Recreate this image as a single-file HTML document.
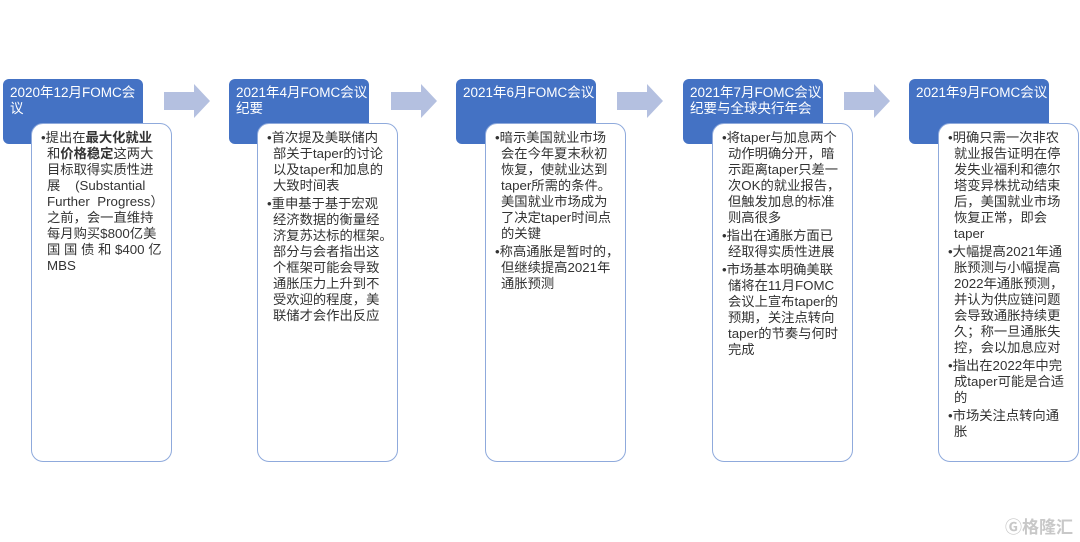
<!DOCTYPE html>
<html><head><meta charset="utf-8"><style>
body{margin:0;width:1080px;height:542px;background:#fff;position:relative;overflow:hidden;font-family:"Liberation Sans","Noto Sans CJK SC",sans-serif;}
.h{position:absolute;top:79px;width:140px;height:65px;background:#4472c4;border-radius:6px;color:#fff;font-size:13.5px;line-height:16px;padding:6px 0 0 7px;box-sizing:border-box;}
.w{position:absolute;top:123px;width:141px;height:339px;background:#fff;border:1.5px solid #8faadc;border-radius:12px;box-sizing:border-box;color:#333;font-size:13.3px;line-height:16px;padding:6px 4px 0 9px;}
.w p{margin:0 0 2px 0;padding-left:6px;text-indent:-6px;white-space:nowrap;}
.a{position:absolute;top:84px;}
</style></head><body>
<svg class="a" style="left:164px" width="46" height="34"><polygon points="0,8 30,8 30,0 46,17 30,34 30,26 0,26" fill="#b4c0e0"/></svg>
<svg class="a" style="left:391px" width="46" height="34"><polygon points="0,8 30,8 30,0 46,17 30,34 30,26 0,26" fill="#b4c0e0"/></svg>
<svg class="a" style="left:617px" width="46" height="34"><polygon points="0,8 30,8 30,0 46,17 30,34 30,26 0,26" fill="#b4c0e0"/></svg>
<svg class="a" style="left:844px" width="46" height="34"><polygon points="0,8 30,8 30,0 46,17 30,34 30,26 0,26" fill="#b4c0e0"/></svg>

<div class="h" style="left:3px">2020年12月FOMC会<br>议</div>
<div class="w" style="left:31px"><p>•提出在<b>最大化就业</b><br>和<b>价格稳定</b>这两大<br>目标取得实质性进<br>展 &nbsp;&nbsp;&nbsp;(Substantial<br>Further &nbsp;Progress）<br>之前，会一直维持<br>每月购买$800亿美<br>国 国 债 和 $400 亿<br>MBS</p></div>

<div class="h" style="left:229px">2021年4月FOMC会议<br>纪要</div>
<div class="w" style="left:257px"><p>•首次提及美联储内<br>部关于taper的讨论<br>以及taper和加息的<br>大致时间表</p><p>•重申基于基于宏观<br>经济数据的衡量经<br>济复苏达标的框架。<br>部分与会者指出这<br>个框架可能会导致<br>通胀压力上升到不<br>受欢迎的程度，美<br>联储才会作出反应</p></div>

<div class="h" style="left:456px">2021年6月FOMC会议</div>
<div class="w" style="left:485px"><p>•暗示美国就业市场<br>会在今年夏末秋初<br>恢复，使就业达到<br>taper所需的条件。<br>美国就业市场成为<br>了决定taper时间点<br>的关键</p><p>•称高通胀是暂时的，<br>但继续提高2021年<br>通胀预测</p></div>

<div class="h" style="left:683px">2021年7月FOMC会议<br>纪要与全球央行年会</div>
<div class="w" style="left:712px"><p>•将taper与加息两个<br>动作明确分开，暗<br>示距离taper只差一<br>次OK的就业报告，<br>但触发加息的标准<br>则高很多</p><p>•指出在通胀方面已<br>经取得实质性进展</p><p>•市场基本明确美联<br>储将在11月FOMC<br>会议上宣布taper的<br>预期，关注点转向<br>taper的节奏与何时<br>完成</p></div>

<div class="h" style="left:909px">2021年9月FOMC会议</div>
<div class="w" style="left:938px"><p>•明确只需一次非农<br>就业报告证明在停<br>发失业福利和德尔<br>塔变异株扰动结束<br>后，美国就业市场<br>恢复正常，即会<br>taper</p><p>•大幅提高2021年通<br>胀预测与小幅提高<br>2022年通胀预测，<br>并认为供应链问题<br>会导致通胀持续更<br>久；称一旦通胀失<br>控，会以加息应对</p><p>•指出在2022年中完<br>成taper可能是合适<br>的</p><p>•市场关注点转向通<br>胀</p></div>

<div style="position:absolute;left:1005px;top:513px;font-size:17px;color:#c8c8c8;font-weight:bold;">Ⓖ格隆汇</div>
</body></html>
